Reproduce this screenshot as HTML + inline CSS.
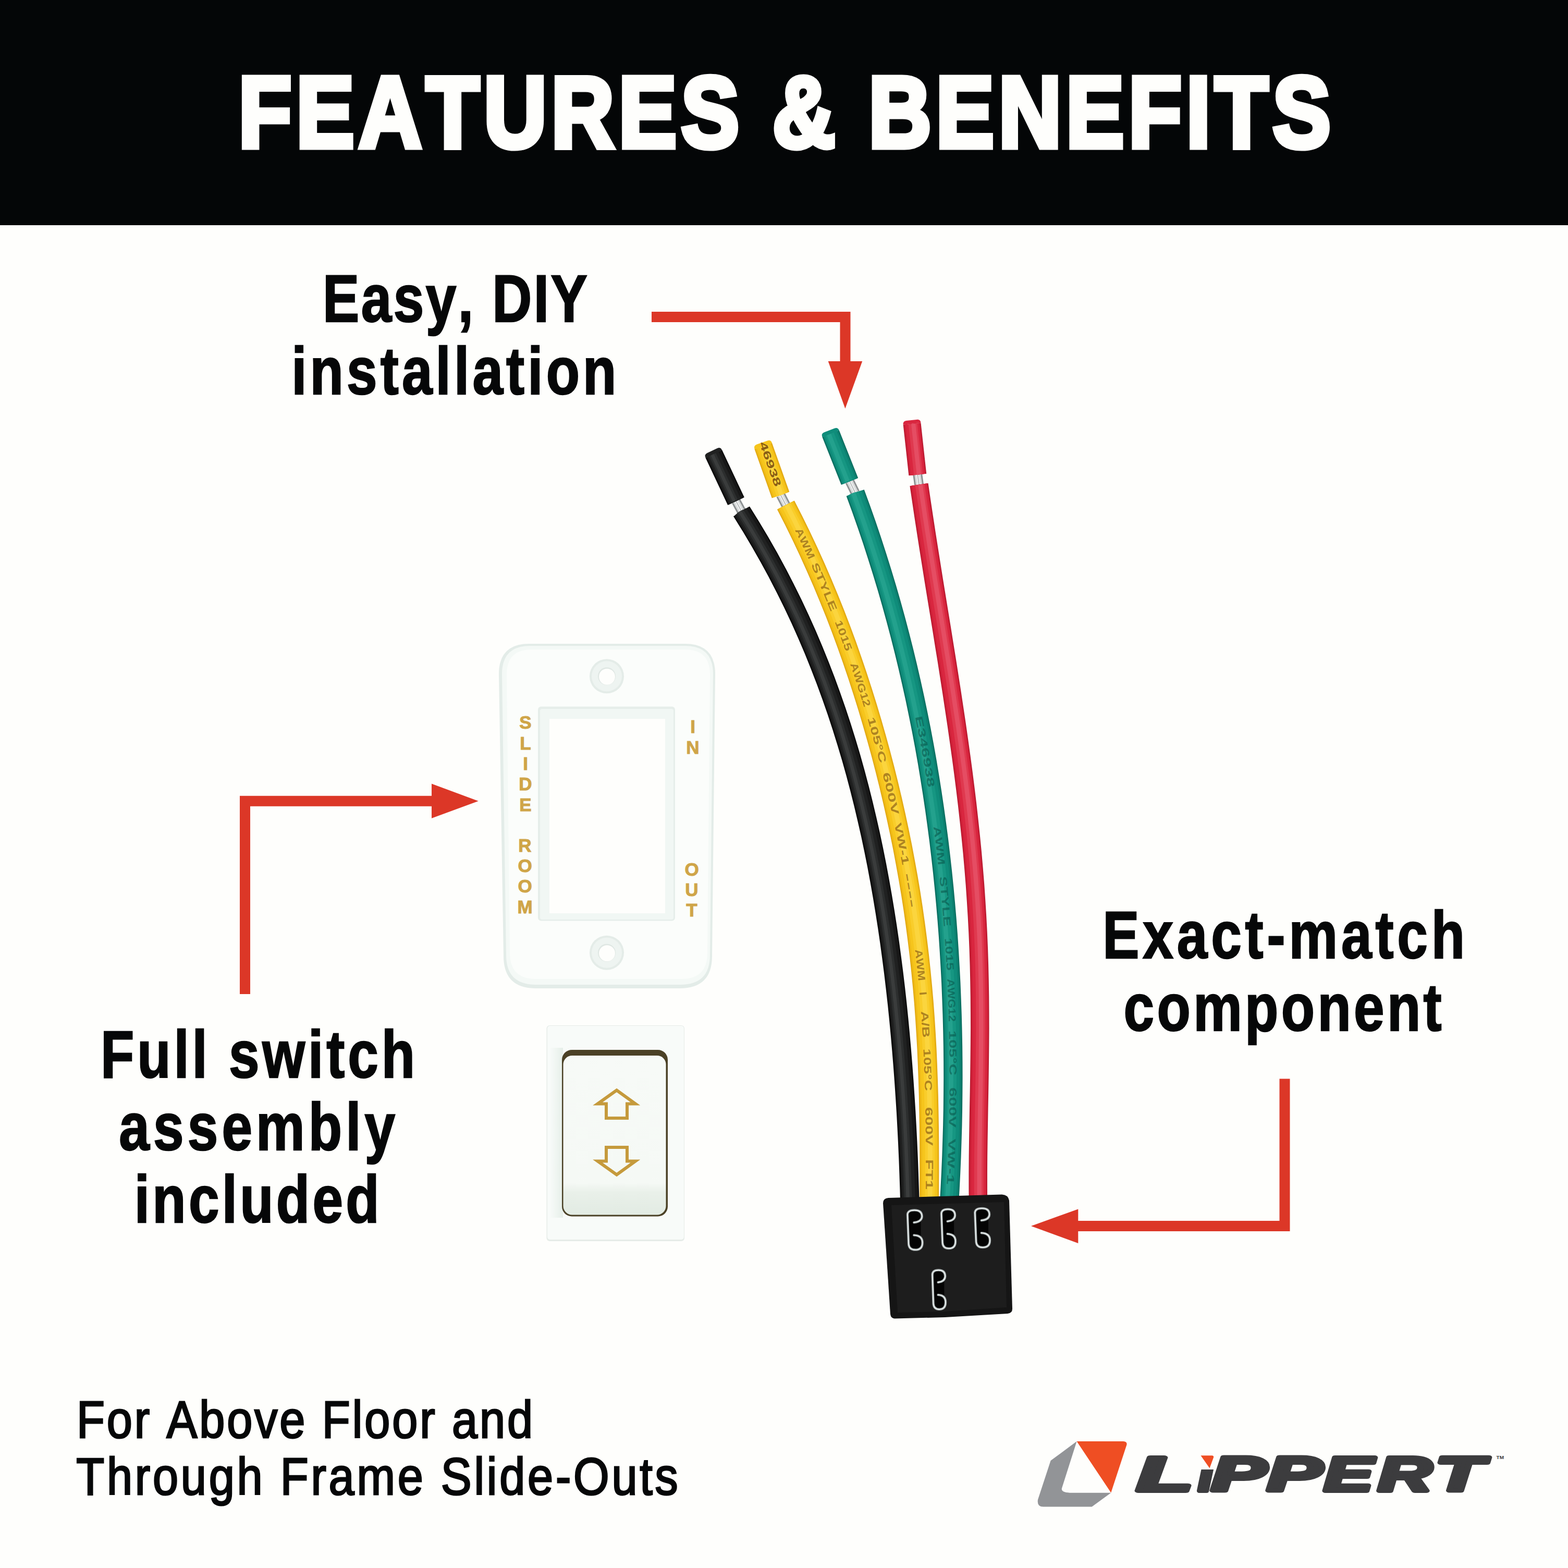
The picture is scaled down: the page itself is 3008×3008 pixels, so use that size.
<!DOCTYPE html>
<html lang="en">
<head>
<meta charset="utf-8">
<title>Features &amp; Benefits</title>
<style>
html,body{margin:0;padding:0;background:#fefefc;}
body{width:3008px;height:3008px;overflow:hidden;}
svg{display:block;font-family:"Liberation Sans",sans-serif;font-kerning:none;}
</style>
</head>
<body>
<svg width="3008" height="3008" viewBox="0 0 3008 3008">
<!-- header -->
<rect x="0" y="0" width="3008" height="432" fill="#040607"/>
<text transform="translate(457.48,282.10) scale(0.86,1)" font-size="193.90" font-weight="bold" font-style="normal" letter-spacing="10.272" fill="#fefefc" stroke="#fefefc" stroke-width="11">FEATURES &amp; BENEFITS</text>
<!-- callouts -->
<text transform="translate(618.99,616.55) scale(0.822,1)" font-size="128.05" font-weight="bold" font-style="normal" letter-spacing="4.242" fill="#060708" stroke="#060708" stroke-width="2.5">Easy, DIY</text>
<text transform="translate(559.18,755.85) scale(0.822,1)" font-size="128.05" font-weight="bold" font-style="normal" letter-spacing="7.490" fill="#060708" stroke="#060708" stroke-width="2.5">installation</text>
<text transform="translate(192.99,2066.75) scale(0.822,1)" font-size="128.05" font-weight="bold" font-style="normal" letter-spacing="7.206" fill="#060708" stroke="#060708" stroke-width="2.5">Full switch</text>
<text transform="translate(228.34,2206.05) scale(0.822,1)" font-size="128.05" font-weight="bold" font-style="normal" letter-spacing="8.699" fill="#060708" stroke="#060708" stroke-width="2.5">assembly</text>
<text transform="translate(257.78,2345.35) scale(0.822,1)" font-size="128.05" font-weight="bold" font-style="normal" letter-spacing="6.443" fill="#060708" stroke="#060708" stroke-width="2.5">included</text>
<text transform="translate(2115.19,1838.05) scale(0.822,1)" font-size="128.05" font-weight="bold" font-style="normal" letter-spacing="8.400" fill="#060708" stroke="#060708" stroke-width="2.5">Exact-match</text>
<text transform="translate(2155.62,1977.35) scale(0.822,1)" font-size="128.05" font-weight="bold" font-style="normal" letter-spacing="6.528" fill="#060708" stroke="#060708" stroke-width="2.5">component</text>
<text transform="translate(146.88,2757.50) scale(0.88,1)" font-size="100.29" font-weight="normal" font-style="normal" letter-spacing="4.467" fill="#060708" stroke="#060708" stroke-width="3">For Above Floor and</text>
<text transform="translate(146.34,2866.50) scale(0.88,1)" font-size="100.29" font-weight="normal" font-style="normal" letter-spacing="5.422" fill="#060708" stroke="#060708" stroke-width="3">Through Frame Slide-Outs</text>
<!-- arrows -->
<path d="M1250,608 H1621.5 V700" fill="none" stroke="#dc3727" stroke-width="20"/>
<path d="M1588.7,693 H1654.2 L1621.4,783.7 Z" fill="#dc3727"/>
<path d="M470,1907 V1536.7 H835" fill="none" stroke="#dc3727" stroke-width="20"/>
<path d="M828,1503.5 V1569.8 L917.7,1536.7 Z" fill="#dc3727"/>
<path d="M2464.5,2069.5 V2352 H2060" fill="none" stroke="#dc3727" stroke-width="20"/>
<path d="M2068.3,2319.5 V2385 L1978,2352 Z" fill="#dc3727"/>
<!-- wires -->
<g fill="none" stroke-linejoin="round"><path d="M1412.0,961.5 L1422.5,981.0" stroke="#8e9293" stroke-width="18"/>
<path d="M1412.0,961.5 L1422.5,981.0" stroke="#d9dcdc" stroke-width="12"/>
<path d="M1412.0,961.5 L1422.5,981.0" stroke="#f4f5f5" stroke-width="5"/>
<path d="M1412.0,961.5 L1422.5,981.0" stroke="#a9adae" stroke-width="1.5"/>
<path d="M1369.3,870.8 L1412.0,961.5" stroke="#0b0b0b" stroke-width="35.0"/>
<path d="M1369.3,870.8 L1412.0,961.5" stroke="#171717" stroke-width="30.8"/>
<path d="M1367.8,870.8 L1410.5,961.5" stroke="#202121" stroke-width="23.1"/>
<path d="M1366.3,870.8 L1409.0,961.5" stroke="#2c2e2e" stroke-width="14.0"/>
<path d="M1365.8,870.8 L1408.5,961.5" stroke="#3a3c3c" stroke-width="6.3"/>
<path d="M1385.1,863.4 Q1382.1,857.0 1375.8,860.0 L1356.8,869.0 Q1350.5,872.0 1353.5,878.3 Z" fill="#202121" stroke="none"/>
<path d="M1422.5,981.0 L1440.8,1010.5 L1458.4,1040.1 L1475.2,1069.6 L1491.2,1099.1 L1506.4,1128.7 L1521.0,1158.2 L1534.9,1187.7 L1548.1,1217.3 L1560.7,1246.8 L1572.6,1276.3 L1584.0,1305.9 L1594.8,1335.4 L1605.1,1364.9 L1614.8,1394.5 L1624.0,1424.0 L1632.8,1453.5 L1641.1,1483.1 L1648.9,1512.6 L1656.3,1542.1 L1663.3,1571.7 L1670.0,1601.2 L1676.2,1630.7 L1682.1,1660.3 L1687.6,1689.8 L1692.8,1719.3 L1697.7,1748.9 L1702.3,1778.4 L1706.6,1807.9 L1710.6,1837.5 L1714.4,1867.0 L1717.9,1896.5 L1721.2,1926.1 L1724.2,1955.6 L1727.0,1985.1 L1729.6,2014.7 L1732.0,2044.2 L1734.2,2073.7 L1736.2,2103.3 L1738.1,2132.8 L1739.7,2162.3 L1741.2,2191.9 L1742.5,2221.4 L1743.6,2250.9 L1744.6,2280.5 L1745.5,2310.0" stroke="#0b0b0b" stroke-width="36.5"/>
<path d="M1422.5,981.0 L1440.8,1010.5 L1458.4,1040.1 L1475.2,1069.6 L1491.2,1099.1 L1506.4,1128.7 L1521.0,1158.2 L1534.9,1187.7 L1548.1,1217.3 L1560.7,1246.8 L1572.6,1276.3 L1584.0,1305.9 L1594.8,1335.4 L1605.1,1364.9 L1614.8,1394.5 L1624.0,1424.0 L1632.8,1453.5 L1641.1,1483.1 L1648.9,1512.6 L1656.3,1542.1 L1663.3,1571.7 L1670.0,1601.2 L1676.2,1630.7 L1682.1,1660.3 L1687.6,1689.8 L1692.8,1719.3 L1697.7,1748.9 L1702.3,1778.4 L1706.6,1807.9 L1710.6,1837.5 L1714.4,1867.0 L1717.9,1896.5 L1721.2,1926.1 L1724.2,1955.6 L1727.0,1985.1 L1729.6,2014.7 L1732.0,2044.2 L1734.2,2073.7 L1736.2,2103.3 L1738.1,2132.8 L1739.7,2162.3 L1741.2,2191.9 L1742.5,2221.4 L1743.6,2250.9 L1744.6,2280.5 L1745.5,2310.0" stroke="#171717" stroke-width="32.1"/>
<path d="M1421.0,981.0 L1439.3,1010.5 L1456.9,1040.1 L1473.7,1069.6 L1489.7,1099.1 L1504.9,1128.7 L1519.5,1158.2 L1533.4,1187.7 L1546.6,1217.3 L1559.2,1246.8 L1571.1,1276.3 L1582.5,1305.9 L1593.3,1335.4 L1603.6,1364.9 L1613.3,1394.5 L1622.5,1424.0 L1631.3,1453.5 L1639.6,1483.1 L1647.4,1512.6 L1654.8,1542.1 L1661.8,1571.7 L1668.5,1601.2 L1674.7,1630.7 L1680.6,1660.3 L1686.1,1689.8 L1691.3,1719.3 L1696.2,1748.9 L1700.8,1778.4 L1705.1,1807.9 L1709.1,1837.5 L1712.9,1867.0 L1716.4,1896.5 L1719.7,1926.1 L1722.7,1955.6 L1725.5,1985.1 L1728.1,2014.7 L1730.5,2044.2 L1732.7,2073.7 L1734.7,2103.3 L1736.6,2132.8 L1738.2,2162.3 L1739.7,2191.9 L1741.0,2221.4 L1742.1,2250.9 L1743.1,2280.5 L1744.0,2310.0" stroke="#202121" stroke-width="24.1"/>
<path d="M1419.5,981.0 L1437.8,1010.5 L1455.4,1040.1 L1472.2,1069.6 L1488.2,1099.1 L1503.4,1128.7 L1518.0,1158.2 L1531.9,1187.7 L1545.1,1217.3 L1557.7,1246.8 L1569.6,1276.3 L1581.0,1305.9 L1591.8,1335.4 L1602.1,1364.9 L1611.8,1394.5 L1621.0,1424.0 L1629.8,1453.5 L1638.1,1483.1 L1645.9,1512.6 L1653.3,1542.1 L1660.3,1571.7 L1667.0,1601.2 L1673.2,1630.7 L1679.1,1660.3 L1684.6,1689.8 L1689.8,1719.3 L1694.7,1748.9 L1699.3,1778.4 L1703.6,1807.9 L1707.6,1837.5 L1711.4,1867.0 L1714.9,1896.5 L1718.2,1926.1 L1721.2,1955.6 L1724.0,1985.1 L1726.6,2014.7 L1729.0,2044.2 L1731.2,2073.7 L1733.2,2103.3 L1735.1,2132.8 L1736.7,2162.3 L1738.2,2191.9 L1739.5,2221.4 L1740.6,2250.9 L1741.6,2280.5 L1742.5,2310.0" stroke="#2c2e2e" stroke-width="14.6"/>
<path d="M1419.0,981.0 L1437.3,1010.5 L1454.9,1040.1 L1471.7,1069.6 L1487.7,1099.1 L1502.9,1128.7 L1517.5,1158.2 L1531.4,1187.7 L1544.6,1217.3 L1557.2,1246.8 L1569.1,1276.3 L1580.5,1305.9 L1591.3,1335.4 L1601.6,1364.9 L1611.3,1394.5 L1620.5,1424.0 L1629.3,1453.5 L1637.6,1483.1 L1645.4,1512.6 L1652.8,1542.1 L1659.8,1571.7 L1666.5,1601.2 L1672.7,1630.7 L1678.6,1660.3 L1684.1,1689.8 L1689.3,1719.3 L1694.2,1748.9 L1698.8,1778.4 L1703.1,1807.9 L1707.1,1837.5 L1710.9,1867.0 L1714.4,1896.5 L1717.7,1926.1 L1720.7,1955.6 L1723.5,1985.1 L1726.1,2014.7 L1728.5,2044.2 L1730.7,2073.7 L1732.7,2103.3 L1734.6,2132.8 L1736.2,2162.3 L1737.7,2191.9 L1739.0,2221.4 L1740.1,2250.9 L1741.1,2280.5 L1742.0,2310.0" stroke="#3a3c3c" stroke-width="6.6"/></g>
<g fill="none" stroke-linejoin="round"><path d="M1497.5,949.5 L1507.5,968.8" stroke="#8e9293" stroke-width="18"/>
<path d="M1497.5,949.5 L1507.5,968.8" stroke="#d9dcdc" stroke-width="12"/>
<path d="M1497.5,949.5 L1507.5,968.8" stroke="#f4f5f5" stroke-width="5"/>
<path d="M1497.5,949.5 L1507.5,968.8" stroke="#a9adae" stroke-width="1.5"/>
<path d="M1464.2,855.6 L1497.5,949.5" stroke="#e0a711" stroke-width="35.5"/>
<path d="M1464.2,855.6 L1497.5,949.5" stroke="#efba17" stroke-width="31.9"/>
<path d="M1464.7,855.6 L1498.0,949.5" stroke="#f6c51c" stroke-width="27.0"/>
<path d="M1465.2,855.6 L1498.5,949.5" stroke="#f9cd2b" stroke-width="17.8"/>
<path d="M1465.7,855.6 L1499.0,949.5" stroke="#fbd53e" stroke-width="8.5"/>
<path d="M1481.0,849.7 Q1478.6,843.1 1472.0,845.4 L1451.8,852.6 Q1445.2,854.9 1447.5,861.5 Z" fill="#f6c51c" stroke="none"/>
<path d="M1507.4,968.8 L1522.6,998.6 L1537.2,1028.4 L1551.2,1058.2 L1564.7,1088.0 L1577.7,1117.8 L1590.1,1147.6 L1602.1,1177.4 L1613.5,1207.2 L1624.5,1237.0 L1635.0,1266.8 L1645.1,1296.6 L1654.8,1326.5 L1664.1,1356.3 L1673.0,1386.1 L1681.5,1415.9 L1689.7,1445.7 L1697.5,1475.5 L1704.9,1505.3 L1712.0,1535.1 L1718.7,1564.9 L1725.1,1594.7 L1731.2,1624.5 L1736.8,1654.3 L1742.2,1684.1 L1747.2,1713.9 L1751.8,1743.7 L1756.0,1773.5 L1759.9,1803.3 L1763.5,1833.1 L1766.7,1862.9 L1769.6,1892.7 L1772.2,1922.5 L1774.4,1952.3 L1776.3,1982.2 L1778.0,2012.0 L1779.3,2041.8 L1780.4,2071.6 L1781.3,2101.4 L1781.9,2131.2 L1782.4,2161.0 L1782.7,2190.8 L1782.8,2220.6 L1782.8,2250.4 L1782.7,2280.2 L1782.6,2310.0" stroke="#e0a711" stroke-width="37.0"/>
<path d="M1507.4,968.8 L1522.6,998.6 L1537.2,1028.4 L1551.2,1058.2 L1564.7,1088.0 L1577.7,1117.8 L1590.1,1147.6 L1602.1,1177.4 L1613.5,1207.2 L1624.5,1237.0 L1635.0,1266.8 L1645.1,1296.6 L1654.8,1326.5 L1664.1,1356.3 L1673.0,1386.1 L1681.5,1415.9 L1689.7,1445.7 L1697.5,1475.5 L1704.9,1505.3 L1712.0,1535.1 L1718.7,1564.9 L1725.1,1594.7 L1731.2,1624.5 L1736.8,1654.3 L1742.2,1684.1 L1747.2,1713.9 L1751.8,1743.7 L1756.0,1773.5 L1759.9,1803.3 L1763.5,1833.1 L1766.7,1862.9 L1769.6,1892.7 L1772.2,1922.5 L1774.4,1952.3 L1776.3,1982.2 L1778.0,2012.0 L1779.3,2041.8 L1780.4,2071.6 L1781.3,2101.4 L1781.9,2131.2 L1782.4,2161.0 L1782.7,2190.8 L1782.8,2220.6 L1782.8,2250.4 L1782.7,2280.2 L1782.6,2310.0" stroke="#efba17" stroke-width="33.3"/>
<path d="M1507.9,968.8 L1523.1,998.6 L1537.7,1028.4 L1551.7,1058.2 L1565.2,1088.0 L1578.2,1117.8 L1590.6,1147.6 L1602.6,1177.4 L1614.0,1207.2 L1625.0,1237.0 L1635.5,1266.8 L1645.6,1296.6 L1655.3,1326.5 L1664.6,1356.3 L1673.5,1386.1 L1682.0,1415.9 L1690.2,1445.7 L1698.0,1475.5 L1705.4,1505.3 L1712.5,1535.1 L1719.2,1564.9 L1725.6,1594.7 L1731.7,1624.5 L1737.3,1654.3 L1742.7,1684.1 L1747.7,1713.9 L1752.3,1743.7 L1756.5,1773.5 L1760.4,1803.3 L1764.0,1833.1 L1767.2,1862.9 L1770.1,1892.7 L1772.7,1922.5 L1774.9,1952.3 L1776.8,1982.2 L1778.5,2012.0 L1779.8,2041.8 L1780.9,2071.6 L1781.8,2101.4 L1782.4,2131.2 L1782.9,2161.0 L1783.2,2190.8 L1783.3,2220.6 L1783.3,2250.4 L1783.2,2280.2 L1783.1,2310.0" stroke="#f6c51c" stroke-width="28.1"/>
<path d="M1508.4,968.8 L1523.6,998.6 L1538.2,1028.4 L1552.2,1058.2 L1565.7,1088.0 L1578.7,1117.8 L1591.1,1147.6 L1603.1,1177.4 L1614.5,1207.2 L1625.5,1237.0 L1636.0,1266.8 L1646.1,1296.6 L1655.8,1326.5 L1665.1,1356.3 L1674.0,1386.1 L1682.5,1415.9 L1690.7,1445.7 L1698.5,1475.5 L1705.9,1505.3 L1713.0,1535.1 L1719.7,1564.9 L1726.1,1594.7 L1732.2,1624.5 L1737.8,1654.3 L1743.2,1684.1 L1748.2,1713.9 L1752.8,1743.7 L1757.0,1773.5 L1760.9,1803.3 L1764.5,1833.1 L1767.7,1862.9 L1770.6,1892.7 L1773.2,1922.5 L1775.4,1952.3 L1777.3,1982.2 L1779.0,2012.0 L1780.3,2041.8 L1781.4,2071.6 L1782.3,2101.4 L1782.9,2131.2 L1783.4,2161.0 L1783.7,2190.8 L1783.8,2220.6 L1783.8,2250.4 L1783.7,2280.2 L1783.6,2310.0" stroke="#f9cd2b" stroke-width="18.5"/>
<path d="M1508.9,968.8 L1524.1,998.6 L1538.7,1028.4 L1552.7,1058.2 L1566.2,1088.0 L1579.2,1117.8 L1591.6,1147.6 L1603.6,1177.4 L1615.0,1207.2 L1626.0,1237.0 L1636.5,1266.8 L1646.6,1296.6 L1656.3,1326.5 L1665.6,1356.3 L1674.5,1386.1 L1683.0,1415.9 L1691.2,1445.7 L1699.0,1475.5 L1706.4,1505.3 L1713.5,1535.1 L1720.2,1564.9 L1726.6,1594.7 L1732.7,1624.5 L1738.3,1654.3 L1743.7,1684.1 L1748.7,1713.9 L1753.3,1743.7 L1757.5,1773.5 L1761.4,1803.3 L1765.0,1833.1 L1768.2,1862.9 L1771.1,1892.7 L1773.7,1922.5 L1775.9,1952.3 L1777.8,1982.2 L1779.5,2012.0 L1780.8,2041.8 L1781.9,2071.6 L1782.8,2101.4 L1783.4,2131.2 L1783.9,2161.0 L1784.2,2190.8 L1784.3,2220.6 L1784.3,2250.4 L1784.2,2280.2 L1784.1,2310.0" stroke="#fbd53e" stroke-width="8.9"/></g>
<g fill="none" stroke-linejoin="round"><path d="M1630.0,923.5 L1640.8,945.5" stroke="#8e9293" stroke-width="18"/>
<path d="M1630.0,923.5 L1640.8,945.5" stroke="#d9dcdc" stroke-width="12"/>
<path d="M1630.0,923.5 L1640.8,945.5" stroke="#f4f5f5" stroke-width="5"/>
<path d="M1630.0,923.5 L1640.8,945.5" stroke="#a9adae" stroke-width="1.5"/>
<path d="M1593.6,832.0 L1630.0,923.5" stroke="#0a6c5e" stroke-width="34.8"/>
<path d="M1593.6,832.0 L1630.0,923.5" stroke="#0c7f6f" stroke-width="31.3"/>
<path d="M1592.6,832.0 L1629.0,923.5" stroke="#0f8c7a" stroke-width="26.4"/>
<path d="M1591.1,832.0 L1627.5,923.5" stroke="#169682" stroke-width="17.4"/>
<path d="M1589.6,832.0 L1626.0,923.5" stroke="#23a18d" stroke-width="8.4"/>
<path d="M1609.8,825.6 Q1607.2,819.1 1600.7,821.7 L1581.3,829.3 Q1574.8,831.9 1577.4,838.4 Z" fill="#0f8c7a" stroke="none"/>
<path d="M1640.7,945.5 L1651.8,975.8 L1662.5,1006.1 L1672.8,1036.5 L1682.6,1066.8 L1692.1,1097.1 L1701.3,1127.4 L1710.0,1157.8 L1718.4,1188.1 L1726.4,1218.4 L1734.1,1248.7 L1741.4,1279.0 L1748.4,1309.4 L1755.1,1339.7 L1761.4,1370.0 L1767.5,1400.3 L1773.2,1430.7 L1778.6,1461.0 L1783.6,1491.3 L1788.4,1521.6 L1792.9,1551.9 L1797.1,1582.3 L1801.1,1612.6 L1804.7,1642.9 L1808.1,1673.2 L1811.2,1703.6 L1814.0,1733.9 L1816.6,1764.2 L1818.9,1794.5 L1820.9,1824.8 L1822.7,1855.2 L1824.3,1885.5 L1825.5,1915.8 L1826.6,1946.1 L1827.4,1976.5 L1828.0,2006.8 L1828.3,2037.1 L1828.4,2067.4 L1828.2,2097.7 L1827.9,2128.1 L1827.3,2158.4 L1826.4,2188.7 L1825.4,2219.0 L1824.1,2249.4 L1822.6,2279.7 L1820.8,2310.0" stroke="#0a6c5e" stroke-width="36.3"/>
<path d="M1640.7,945.5 L1651.8,975.8 L1662.5,1006.1 L1672.8,1036.5 L1682.6,1066.8 L1692.1,1097.1 L1701.3,1127.4 L1710.0,1157.8 L1718.4,1188.1 L1726.4,1218.4 L1734.1,1248.7 L1741.4,1279.0 L1748.4,1309.4 L1755.1,1339.7 L1761.4,1370.0 L1767.5,1400.3 L1773.2,1430.7 L1778.6,1461.0 L1783.6,1491.3 L1788.4,1521.6 L1792.9,1551.9 L1797.1,1582.3 L1801.1,1612.6 L1804.7,1642.9 L1808.1,1673.2 L1811.2,1703.6 L1814.0,1733.9 L1816.6,1764.2 L1818.9,1794.5 L1820.9,1824.8 L1822.7,1855.2 L1824.3,1885.5 L1825.5,1915.8 L1826.6,1946.1 L1827.4,1976.5 L1828.0,2006.8 L1828.3,2037.1 L1828.4,2067.4 L1828.2,2097.7 L1827.9,2128.1 L1827.3,2158.4 L1826.4,2188.7 L1825.4,2219.0 L1824.1,2249.4 L1822.6,2279.7 L1820.8,2310.0" stroke="#0c7f6f" stroke-width="32.7"/>
<path d="M1639.7,945.5 L1650.8,975.8 L1661.5,1006.1 L1671.8,1036.5 L1681.6,1066.8 L1691.1,1097.1 L1700.3,1127.4 L1709.0,1157.8 L1717.4,1188.1 L1725.4,1218.4 L1733.1,1248.7 L1740.4,1279.0 L1747.4,1309.4 L1754.1,1339.7 L1760.4,1370.0 L1766.5,1400.3 L1772.2,1430.7 L1777.6,1461.0 L1782.6,1491.3 L1787.4,1521.6 L1791.9,1551.9 L1796.1,1582.3 L1800.1,1612.6 L1803.7,1642.9 L1807.1,1673.2 L1810.2,1703.6 L1813.0,1733.9 L1815.6,1764.2 L1817.9,1794.5 L1819.9,1824.8 L1821.7,1855.2 L1823.3,1885.5 L1824.5,1915.8 L1825.6,1946.1 L1826.4,1976.5 L1827.0,2006.8 L1827.3,2037.1 L1827.4,2067.4 L1827.2,2097.7 L1826.9,2128.1 L1826.3,2158.4 L1825.4,2188.7 L1824.4,2219.0 L1823.1,2249.4 L1821.6,2279.7 L1819.8,2310.0" stroke="#0f8c7a" stroke-width="27.6"/>
<path d="M1638.2,945.5 L1649.3,975.8 L1660.0,1006.1 L1670.3,1036.5 L1680.1,1066.8 L1689.6,1097.1 L1698.8,1127.4 L1707.5,1157.8 L1715.9,1188.1 L1723.9,1218.4 L1731.6,1248.7 L1738.9,1279.0 L1745.9,1309.4 L1752.6,1339.7 L1758.9,1370.0 L1765.0,1400.3 L1770.7,1430.7 L1776.1,1461.0 L1781.1,1491.3 L1785.9,1521.6 L1790.4,1551.9 L1794.6,1582.3 L1798.6,1612.6 L1802.2,1642.9 L1805.6,1673.2 L1808.7,1703.6 L1811.5,1733.9 L1814.1,1764.2 L1816.4,1794.5 L1818.4,1824.8 L1820.2,1855.2 L1821.8,1885.5 L1823.0,1915.8 L1824.1,1946.1 L1824.9,1976.5 L1825.5,2006.8 L1825.8,2037.1 L1825.9,2067.4 L1825.7,2097.7 L1825.4,2128.1 L1824.8,2158.4 L1823.9,2188.7 L1822.9,2219.0 L1821.6,2249.4 L1820.1,2279.7 L1818.3,2310.0" stroke="#169682" stroke-width="18.1"/>
<path d="M1636.7,945.5 L1647.8,975.8 L1658.5,1006.1 L1668.8,1036.5 L1678.6,1066.8 L1688.1,1097.1 L1697.3,1127.4 L1706.0,1157.8 L1714.4,1188.1 L1722.4,1218.4 L1730.1,1248.7 L1737.4,1279.0 L1744.4,1309.4 L1751.1,1339.7 L1757.4,1370.0 L1763.5,1400.3 L1769.2,1430.7 L1774.6,1461.0 L1779.6,1491.3 L1784.4,1521.6 L1788.9,1551.9 L1793.1,1582.3 L1797.1,1612.6 L1800.7,1642.9 L1804.1,1673.2 L1807.2,1703.6 L1810.0,1733.9 L1812.6,1764.2 L1814.9,1794.5 L1816.9,1824.8 L1818.7,1855.2 L1820.3,1885.5 L1821.5,1915.8 L1822.6,1946.1 L1823.4,1976.5 L1824.0,2006.8 L1824.3,2037.1 L1824.4,2067.4 L1824.2,2097.7 L1823.9,2128.1 L1823.3,2158.4 L1822.4,2188.7 L1821.4,2219.0 L1820.1,2249.4 L1818.6,2279.7 L1816.8,2310.0" stroke="#23a18d" stroke-width="8.7"/></g>
<g fill="none" stroke-linejoin="round"><path d="M1760.3,910.5 L1763.0,929.6" stroke="#8e9293" stroke-width="18"/>
<path d="M1760.3,910.5 L1763.0,929.6" stroke="#d9dcdc" stroke-width="12"/>
<path d="M1760.3,910.5 L1763.0,929.6" stroke="#f4f5f5" stroke-width="5"/>
<path d="M1760.3,910.5 L1763.0,929.6" stroke="#a9adae" stroke-width="1.5"/>
<path d="M1749.6,813.0 L1760.3,910.5" stroke="#b8192f" stroke-width="34.0"/>
<path d="M1749.6,813.0 L1760.3,910.5" stroke="#ce2038" stroke-width="30.6"/>
<path d="M1750.1,813.0 L1760.8,910.5" stroke="#d9263f" stroke-width="25.8"/>
<path d="M1751.1,813.0 L1761.8,910.5" stroke="#df394f" stroke-width="17.0"/>
<path d="M1752.1,813.0 L1762.8,910.5" stroke="#e54d63" stroke-width="8.2"/>
<path d="M1766.5,811.1 Q1765.7,804.1 1758.7,804.9 L1738.9,807.1 Q1731.9,807.9 1732.7,814.8 Z" fill="#d9263f" stroke="none"/>
<path d="M1763.0,929.6 L1767.5,960.3 L1772.1,991.0 L1776.8,1021.6 L1781.6,1052.3 L1786.5,1083.0 L1791.4,1113.7 L1796.4,1144.3 L1801.4,1175.0 L1806.4,1205.7 L1811.3,1236.4 L1816.3,1267.0 L1821.1,1297.7 L1825.9,1328.4 L1830.5,1359.1 L1835.1,1389.7 L1839.5,1420.4 L1843.8,1451.1 L1847.9,1481.8 L1851.8,1512.4 L1855.5,1543.1 L1858.9,1573.8 L1862.2,1604.5 L1865.2,1635.1 L1867.9,1665.8 L1870.4,1696.5 L1872.5,1727.2 L1874.4,1757.8 L1876.0,1788.5 L1877.3,1819.2 L1878.3,1849.9 L1879.0,1880.5 L1879.5,1911.2 L1879.7,1941.9 L1879.8,1972.6 L1879.6,2003.2 L1879.3,2033.9 L1878.9,2064.6 L1878.4,2095.3 L1877.8,2125.9 L1877.3,2156.6 L1876.8,2187.3 L1876.4,2218.0 L1876.2,2248.6 L1876.2,2279.3 L1876.4,2310.0" stroke="#b8192f" stroke-width="35.5"/>
<path d="M1763.0,929.6 L1767.5,960.3 L1772.1,991.0 L1776.8,1021.6 L1781.6,1052.3 L1786.5,1083.0 L1791.4,1113.7 L1796.4,1144.3 L1801.4,1175.0 L1806.4,1205.7 L1811.3,1236.4 L1816.3,1267.0 L1821.1,1297.7 L1825.9,1328.4 L1830.5,1359.1 L1835.1,1389.7 L1839.5,1420.4 L1843.8,1451.1 L1847.9,1481.8 L1851.8,1512.4 L1855.5,1543.1 L1858.9,1573.8 L1862.2,1604.5 L1865.2,1635.1 L1867.9,1665.8 L1870.4,1696.5 L1872.5,1727.2 L1874.4,1757.8 L1876.0,1788.5 L1877.3,1819.2 L1878.3,1849.9 L1879.0,1880.5 L1879.5,1911.2 L1879.7,1941.9 L1879.8,1972.6 L1879.6,2003.2 L1879.3,2033.9 L1878.9,2064.6 L1878.4,2095.3 L1877.8,2125.9 L1877.3,2156.6 L1876.8,2187.3 L1876.4,2218.0 L1876.2,2248.6 L1876.2,2279.3 L1876.4,2310.0" stroke="#ce2038" stroke-width="31.9"/>
<path d="M1763.5,929.6 L1768.0,960.3 L1772.6,991.0 L1777.3,1021.6 L1782.1,1052.3 L1787.0,1083.0 L1791.9,1113.7 L1796.9,1144.3 L1801.9,1175.0 L1806.9,1205.7 L1811.8,1236.4 L1816.8,1267.0 L1821.6,1297.7 L1826.4,1328.4 L1831.0,1359.1 L1835.6,1389.7 L1840.0,1420.4 L1844.3,1451.1 L1848.4,1481.8 L1852.3,1512.4 L1856.0,1543.1 L1859.4,1573.8 L1862.7,1604.5 L1865.7,1635.1 L1868.4,1665.8 L1870.9,1696.5 L1873.0,1727.2 L1874.9,1757.8 L1876.5,1788.5 L1877.8,1819.2 L1878.8,1849.9 L1879.5,1880.5 L1880.0,1911.2 L1880.2,1941.9 L1880.3,1972.6 L1880.1,2003.2 L1879.8,2033.9 L1879.4,2064.6 L1878.9,2095.3 L1878.3,2125.9 L1877.8,2156.6 L1877.3,2187.3 L1876.9,2218.0 L1876.7,2248.6 L1876.7,2279.3 L1876.9,2310.0" stroke="#d9263f" stroke-width="27.0"/>
<path d="M1764.5,929.6 L1769.0,960.3 L1773.6,991.0 L1778.3,1021.6 L1783.1,1052.3 L1788.0,1083.0 L1792.9,1113.7 L1797.9,1144.3 L1802.9,1175.0 L1807.9,1205.7 L1812.8,1236.4 L1817.8,1267.0 L1822.6,1297.7 L1827.4,1328.4 L1832.0,1359.1 L1836.6,1389.7 L1841.0,1420.4 L1845.3,1451.1 L1849.4,1481.8 L1853.3,1512.4 L1857.0,1543.1 L1860.4,1573.8 L1863.7,1604.5 L1866.7,1635.1 L1869.4,1665.8 L1871.9,1696.5 L1874.0,1727.2 L1875.9,1757.8 L1877.5,1788.5 L1878.8,1819.2 L1879.8,1849.9 L1880.5,1880.5 L1881.0,1911.2 L1881.2,1941.9 L1881.3,1972.6 L1881.1,2003.2 L1880.8,2033.9 L1880.4,2064.6 L1879.9,2095.3 L1879.3,2125.9 L1878.8,2156.6 L1878.3,2187.3 L1877.9,2218.0 L1877.7,2248.6 L1877.7,2279.3 L1877.9,2310.0" stroke="#df394f" stroke-width="17.8"/>
<path d="M1765.5,929.6 L1770.0,960.3 L1774.6,991.0 L1779.3,1021.6 L1784.1,1052.3 L1789.0,1083.0 L1793.9,1113.7 L1798.9,1144.3 L1803.9,1175.0 L1808.9,1205.7 L1813.8,1236.4 L1818.8,1267.0 L1823.6,1297.7 L1828.4,1328.4 L1833.0,1359.1 L1837.6,1389.7 L1842.0,1420.4 L1846.3,1451.1 L1850.4,1481.8 L1854.3,1512.4 L1858.0,1543.1 L1861.4,1573.8 L1864.7,1604.5 L1867.7,1635.1 L1870.4,1665.8 L1872.9,1696.5 L1875.0,1727.2 L1876.9,1757.8 L1878.5,1788.5 L1879.8,1819.2 L1880.8,1849.9 L1881.5,1880.5 L1882.0,1911.2 L1882.2,1941.9 L1882.3,1972.6 L1882.1,2003.2 L1881.8,2033.9 L1881.4,2064.6 L1880.9,2095.3 L1880.3,2125.9 L1879.8,2156.6 L1879.3,2187.3 L1878.9,2218.0 L1878.7,2248.6 L1878.7,2279.3 L1878.9,2310.0" stroke="#e54d63" stroke-width="8.5"/></g>
<path id="wy" d="M1500.6,968.8 L1515.8,998.6 L1530.4,1028.4 L1544.4,1058.2 L1557.9,1088.0 L1570.9,1117.8 L1583.3,1147.6 L1595.3,1177.4 L1606.7,1207.2 L1617.7,1237.0 L1628.2,1266.8 L1638.3,1296.6 L1648.0,1326.5 L1657.3,1356.3 L1666.2,1386.1 L1674.7,1415.9 L1682.9,1445.7 L1690.7,1475.5 L1698.1,1505.3 L1705.2,1535.1 L1711.9,1564.9 L1718.3,1594.7 L1724.4,1624.5 L1730.0,1654.3 L1735.4,1684.1 L1740.4,1713.9 L1745.0,1743.7 L1749.2,1773.5 L1753.1,1803.3 L1756.7,1833.1 L1759.9,1862.9 L1762.8,1892.7 L1765.4,1922.5 L1767.6,1952.3 L1769.5,1982.2 L1771.2,2012.0 L1772.5,2041.8 L1773.6,2071.6 L1774.5,2101.4 L1775.1,2131.2 L1775.6,2161.0 L1775.9,2190.8 L1776.0,2220.6 L1776.0,2250.4 L1775.9,2280.2 L1775.8,2310.0" fill="none"/>
<text font-size="19.5" font-weight="bold" fill="#7a4e10" fill-opacity="0.62" textLength="63.0" lengthAdjust="spacingAndGlyphs"><textPath href="#wy" startOffset="53.9" textLength="63.0" lengthAdjust="spacingAndGlyphs">AWM</textPath></text>
<text font-size="19.5" font-weight="bold" fill="#7a4e10" fill-opacity="0.62" textLength="98.7" lengthAdjust="spacingAndGlyphs"><textPath href="#wy" startOffset="126.8" textLength="98.7" lengthAdjust="spacingAndGlyphs">STYLE</textPath></text>
<text font-size="19.5" font-weight="bold" fill="#7a4e10" fill-opacity="0.62" textLength="60.8" lengthAdjust="spacingAndGlyphs"><textPath href="#wy" startOffset="245.9" textLength="60.8" lengthAdjust="spacingAndGlyphs">1015</textPath></text>
<text font-size="19.5" font-weight="bold" fill="#7a4e10" fill-opacity="0.62" textLength="87.2" lengthAdjust="spacingAndGlyphs"><textPath href="#wy" startOffset="332.1" textLength="87.2" lengthAdjust="spacingAndGlyphs">AWG12</textPath></text>
<text font-size="19.5" font-weight="bold" fill="#7a4e10" fill-opacity="0.62" textLength="90.3" lengthAdjust="spacingAndGlyphs"><textPath href="#wy" startOffset="441.2" textLength="90.3" lengthAdjust="spacingAndGlyphs">105°C</textPath></text>
<text font-size="19.5" font-weight="bold" fill="#7a4e10" fill-opacity="0.62" textLength="82.7" lengthAdjust="spacingAndGlyphs"><textPath href="#wy" startOffset="550.6" textLength="82.7" lengthAdjust="spacingAndGlyphs">600V</textPath></text>
<text font-size="19.5" font-weight="bold" fill="#7a4e10" fill-opacity="0.62" textLength="81.6" lengthAdjust="spacingAndGlyphs"><textPath href="#wy" startOffset="649.7" textLength="81.6" lengthAdjust="spacingAndGlyphs">VW-1</textPath></text>
<text font-size="19.5" font-weight="bold" fill="#7a4e10" fill-opacity="0.62" textLength="66.9" lengthAdjust="spacingAndGlyphs"><textPath href="#wy" startOffset="747.5" textLength="66.9" lengthAdjust="spacingAndGlyphs">----</textPath></text>
<text font-size="19.5" font-weight="bold" fill="#7a4e10" fill-opacity="0.62" textLength="60.3" lengthAdjust="spacingAndGlyphs"><textPath href="#wy" startOffset="895.1" textLength="60.3" lengthAdjust="spacingAndGlyphs">AWM</textPath></text>
<text font-size="19.5" font-weight="bold" fill="#7a4e10" fill-opacity="0.62" textLength="7.0" lengthAdjust="spacingAndGlyphs"><textPath href="#wy" startOffset="976.5" textLength="7.0" lengthAdjust="spacingAndGlyphs">I</textPath></text>
<text font-size="19.5" font-weight="bold" fill="#7a4e10" fill-opacity="0.62" textLength="51.1" lengthAdjust="spacingAndGlyphs"><textPath href="#wy" startOffset="1013.7" textLength="51.1" lengthAdjust="spacingAndGlyphs">A/B</textPath></text>
<text font-size="19.5" font-weight="bold" fill="#7a4e10" fill-opacity="0.62" textLength="81.1" lengthAdjust="spacingAndGlyphs"><textPath href="#wy" startOffset="1085.8" textLength="81.1" lengthAdjust="spacingAndGlyphs">105°C</textPath></text>
<text font-size="19.5" font-weight="bold" fill="#7a4e10" fill-opacity="0.62" textLength="74.0" lengthAdjust="spacingAndGlyphs"><textPath href="#wy" startOffset="1197.9" textLength="74.0" lengthAdjust="spacingAndGlyphs">600V</textPath></text>
<text font-size="19.5" font-weight="bold" fill="#7a4e10" fill-opacity="0.62" textLength="58.0" lengthAdjust="spacingAndGlyphs"><textPath href="#wy" startOffset="1297.9" textLength="58.0" lengthAdjust="spacingAndGlyphs">FT1</textPath></text>
<path id="wg" d="M1633.9,945.5 L1645.0,975.8 L1655.7,1006.1 L1666.0,1036.5 L1675.8,1066.8 L1685.3,1097.1 L1694.5,1127.4 L1703.2,1157.8 L1711.6,1188.1 L1719.6,1218.4 L1727.3,1248.7 L1734.6,1279.0 L1741.6,1309.4 L1748.3,1339.7 L1754.6,1370.0 L1760.7,1400.3 L1766.4,1430.7 L1771.8,1461.0 L1776.8,1491.3 L1781.6,1521.6 L1786.1,1551.9 L1790.3,1582.3 L1794.3,1612.6 L1797.9,1642.9 L1801.3,1673.2 L1804.4,1703.6 L1807.2,1733.9 L1809.8,1764.2 L1812.1,1794.5 L1814.1,1824.8 L1815.9,1855.2 L1817.5,1885.5 L1818.7,1915.8 L1819.8,1946.1 L1820.6,1976.5 L1821.2,2006.8 L1821.5,2037.1 L1821.6,2067.4 L1821.4,2097.7 L1821.1,2128.1 L1820.5,2158.4 L1819.6,2188.7 L1818.6,2219.0 L1817.3,2249.4 L1815.8,2279.7 L1814.0,2310.0" fill="none"/>
<text font-size="19.5" font-weight="bold" fill="#054a40" fill-opacity="0.5" textLength="138.2" lengthAdjust="spacingAndGlyphs"><textPath href="#wg" startOffset="446.9" textLength="138.2" lengthAdjust="spacingAndGlyphs">E346938</textPath></text>
<text font-size="19.5" font-weight="bold" fill="#054a40" fill-opacity="0.5" textLength="74.5" lengthAdjust="spacingAndGlyphs"><textPath href="#wg" startOffset="660.8" textLength="74.5" lengthAdjust="spacingAndGlyphs">AWM</textPath></text>
<text font-size="19.5" font-weight="bold" fill="#054a40" fill-opacity="0.5" textLength="96.4" lengthAdjust="spacingAndGlyphs"><textPath href="#wg" startOffset="757.5" textLength="96.4" lengthAdjust="spacingAndGlyphs">STYLE</textPath></text>
<text font-size="19.5" font-weight="bold" fill="#054a40" fill-opacity="0.5" textLength="62.1" lengthAdjust="spacingAndGlyphs"><textPath href="#wg" startOffset="876.0" textLength="62.1" lengthAdjust="spacingAndGlyphs">1015</textPath></text>
<text font-size="19.5" font-weight="bold" fill="#054a40" fill-opacity="0.5" textLength="82.1" lengthAdjust="spacingAndGlyphs"><textPath href="#wg" startOffset="954.1" textLength="82.1" lengthAdjust="spacingAndGlyphs">AWG12</textPath></text>
<text font-size="19.5" font-weight="bold" fill="#054a40" fill-opacity="0.5" textLength="86.0" lengthAdjust="spacingAndGlyphs"><textPath href="#wg" startOffset="1053.2" textLength="86.0" lengthAdjust="spacingAndGlyphs">105°C</textPath></text>
<text font-size="19.5" font-weight="bold" fill="#054a40" fill-opacity="0.5" textLength="77.0" lengthAdjust="spacingAndGlyphs"><textPath href="#wg" startOffset="1162.2" textLength="77.0" lengthAdjust="spacingAndGlyphs">600V</textPath></text>
<text font-size="19.5" font-weight="bold" fill="#054a40" fill-opacity="0.5" textLength="88.1" lengthAdjust="spacingAndGlyphs"><textPath href="#wg" startOffset="1260.2" textLength="88.1" lengthAdjust="spacingAndGlyphs">VW-1</textPath></text>
<text transform="translate(1456.4,850.0) rotate(70.5)" font-size="19.5" font-weight="bold" fill="#7a4e10" fill-opacity="0.9" textLength="90" lengthAdjust="spacingAndGlyphs">46938</text>
<!-- connector -->
<path d="M1704,2298 L1922,2291.5 Q1934,2292 1936,2303 L1942,2511 Q1942,2519 1933,2520 L1813,2527 L1716,2529.5 Q1709,2529 1708,2521 L1694,2308 Q1694,2299 1704,2298 Z" fill="#151515"/>
<path d="M1710,2312 L1926,2306 L1931,2508 L1812,2516 L1722,2518 Z" fill="#1d1d1d"/>
<rect x="1743.7" y="2324.6" width="22.8" height="69.9" rx="4" fill="#040404"/><path d="M1753.3,2345.2 Q1768.1,2343.6 1768.7,2333.8 Q1768.7,2321.6 1754.2,2321.6 Q1739.7,2321.6 1741.0,2332.2 L1743.1,2387.0 Q1744.3,2397.6 1755.7,2397.6 Q1769.6,2397.6 1769.6,2383.9 Q1769.6,2370.2 1753.3,2369.5 Z" fill="#040404"/><path d="M1753.3,2345.2 Q1768.1,2343.6 1768.7,2333.8 Q1768.7,2321.6 1754.2,2321.6 Q1739.7,2321.6 1741.0,2332.2 L1743.1,2387.0 Q1744.3,2397.6 1755.7,2397.6 Q1769.6,2397.6 1769.6,2383.9 Q1769.6,2370.2 1753.3,2369.5" fill="none" stroke="#8f9696" stroke-width="4.5" stroke-linecap="round"/><path d="M1753.3,2345.2 Q1768.1,2343.6 1768.7,2333.8 Q1768.7,2321.6 1754.2,2321.6 Q1739.7,2321.6 1741.0,2332.2 L1743.1,2387.0 Q1744.3,2397.6 1755.7,2397.6 Q1769.6,2397.6 1769.6,2383.9 Q1769.6,2370.2 1753.3,2369.5" fill="none" stroke="#e6ecec" stroke-width="2.2" stroke-linecap="round"/>
<rect x="1808.6" y="2322.7" width="21.5" height="69.3" rx="4" fill="#040404"/><path d="M1817.6,2343.0 Q1831.5,2341.5 1832.1,2331.7 Q1832.1,2319.7 1818.5,2319.7 Q1804.9,2319.7 1806.0,2330.2 L1808.1,2384.5 Q1809.2,2395.0 1820.0,2395.0 Q1833.0,2395.0 1833.0,2381.4 Q1833.0,2367.9 1817.6,2367.1 Z" fill="#040404"/><path d="M1817.6,2343.0 Q1831.5,2341.5 1832.1,2331.7 Q1832.1,2319.7 1818.5,2319.7 Q1804.9,2319.7 1806.0,2330.2 L1808.1,2384.5 Q1809.2,2395.0 1820.0,2395.0 Q1833.0,2395.0 1833.0,2381.4 Q1833.0,2367.9 1817.6,2367.1" fill="none" stroke="#8f9696" stroke-width="4.5" stroke-linecap="round"/><path d="M1817.6,2343.0 Q1831.5,2341.5 1832.1,2331.7 Q1832.1,2319.7 1818.5,2319.7 Q1804.9,2319.7 1806.0,2330.2 L1808.1,2384.5 Q1809.2,2395.0 1820.0,2395.0 Q1833.0,2395.0 1833.0,2381.4 Q1833.0,2367.9 1817.6,2367.1" fill="none" stroke="#e6ecec" stroke-width="2.2" stroke-linecap="round"/>
<rect x="1873.2" y="2321.0" width="22.7" height="69.0" rx="4" fill="#040404"/><path d="M1882.7,2341.2 Q1897.5,2339.8 1898.1,2330.0 Q1898.1,2318.0 1883.7,2318.0 Q1869.2,2318.0 1870.4,2328.5 L1872.6,2382.5 Q1873.8,2393.0 1885.2,2393.0 Q1899.0,2393.0 1899.0,2379.5 Q1899.0,2366.0 1882.7,2365.2 Z" fill="#040404"/><path d="M1882.7,2341.2 Q1897.5,2339.8 1898.1,2330.0 Q1898.1,2318.0 1883.7,2318.0 Q1869.2,2318.0 1870.4,2328.5 L1872.6,2382.5 Q1873.8,2393.0 1885.2,2393.0 Q1899.0,2393.0 1899.0,2379.5 Q1899.0,2366.0 1882.7,2365.2" fill="none" stroke="#8f9696" stroke-width="4.5" stroke-linecap="round"/><path d="M1882.7,2341.2 Q1897.5,2339.8 1898.1,2330.0 Q1898.1,2318.0 1883.7,2318.0 Q1869.2,2318.0 1870.4,2328.5 L1872.6,2382.5 Q1873.8,2393.0 1885.2,2393.0 Q1899.0,2393.0 1899.0,2379.5 Q1899.0,2366.0 1882.7,2365.2" fill="none" stroke="#e6ecec" stroke-width="2.2" stroke-linecap="round"/>
<rect x="1791.2" y="2439.6" width="20.1" height="69.2" rx="4" fill="#040404"/><path d="M1799.6,2459.9 Q1812.6,2458.4 1813.2,2448.6 Q1813.2,2436.6 1800.4,2436.6 Q1787.6,2436.6 1788.7,2447.1 L1790.6,2501.3 Q1791.7,2511.8 1801.8,2511.8 Q1814.0,2511.8 1814.0,2498.3 Q1814.0,2484.7 1799.6,2484.0 Z" fill="#040404"/><path d="M1799.6,2459.9 Q1812.6,2458.4 1813.2,2448.6 Q1813.2,2436.6 1800.4,2436.6 Q1787.6,2436.6 1788.7,2447.1 L1790.6,2501.3 Q1791.7,2511.8 1801.8,2511.8 Q1814.0,2511.8 1814.0,2498.3 Q1814.0,2484.7 1799.6,2484.0" fill="none" stroke="#8f9696" stroke-width="4.5" stroke-linecap="round"/><path d="M1799.6,2459.9 Q1812.6,2458.4 1813.2,2448.6 Q1813.2,2436.6 1800.4,2436.6 Q1787.6,2436.6 1788.7,2447.1 L1790.6,2501.3 Q1791.7,2511.8 1801.8,2511.8 Q1814.0,2511.8 1814.0,2498.3 Q1814.0,2484.7 1799.6,2484.0" fill="none" stroke="#e6ecec" stroke-width="2.2" stroke-linecap="round"/>
<!-- switch plate -->
<path d="M1015,1235 H1314 Q1372,1235 1372,1293 L1366,1834 Q1366,1896 1304,1896 H1028 Q966,1896 966,1834 L957,1293 Q957,1235 1015,1235 Z" fill="#e3ece8"/>
<path d="M1017,1239 H1314 Q1368,1239 1368,1293 L1362,1832 Q1362,1889 1305,1889 H1028 Q971,1889 971,1832 L963,1293 Q963,1239 1017,1239 Z" fill="#f4f9f6"/>
<path d="M1020,1246 H1314 Q1362,1246 1362,1294 L1357,1828 Q1357,1878 1307,1878 H1028 Q978,1878 978,1828 L972,1294 Q972,1246 1020,1246 Z" fill="#fbfdfb"/>
<rect x="1032" y="1355.5" width="263" height="411" rx="6" fill="#e6eeea"/>
<rect x="1036" y="1360" width="256" height="404" rx="4" fill="#f1f7f4"/>
<rect x="1054" y="1379" width="222" height="373" fill="#fefefc"/>
<circle cx="1164" cy="1297.3" r="33" fill="#e4ece8"/>
<circle cx="1164" cy="1297.3" r="29" fill="#eef4f1"/>
<circle cx="1164" cy="1297.3" r="17" fill="#dfe7e3"/>
<circle cx="1164.5" cy="1298.3" r="15.5" fill="#fefefc"/>
<circle cx="1164" cy="1827.7" r="33" fill="#e4ece8"/>
<circle cx="1164" cy="1827.7" r="29" fill="#eef4f1"/>
<circle cx="1164" cy="1827.7" r="17" fill="#dfe7e3"/>
<circle cx="1164.5" cy="1828.7" r="15.5" fill="#fefefc"/>
<text x="1008" y="1398.3" font-size="35" font-weight="bold" fill="#cfa548" stroke="#cfa548" stroke-width="1" text-anchor="middle">S</text><text x="1008" y="1438.4" font-size="35" font-weight="bold" fill="#cfa548" stroke="#cfa548" stroke-width="1" text-anchor="middle">L</text><text x="1008" y="1477.0" font-size="35" font-weight="bold" fill="#cfa548" stroke="#cfa548" stroke-width="1" text-anchor="middle">I</text><text x="1008" y="1516.0" font-size="35" font-weight="bold" fill="#cfa548" stroke="#cfa548" stroke-width="1" text-anchor="middle">D</text><text x="1008" y="1556.0" font-size="35" font-weight="bold" fill="#cfa548" stroke="#cfa548" stroke-width="1" text-anchor="middle">E</text>
<text x="1007" y="1633.6" font-size="35" font-weight="bold" fill="#cfa548" stroke="#cfa548" stroke-width="1" text-anchor="middle">R</text><text x="1007" y="1672.9" font-size="35" font-weight="bold" fill="#cfa548" stroke="#cfa548" stroke-width="1" text-anchor="middle">O</text><text x="1007" y="1712.2" font-size="35" font-weight="bold" fill="#cfa548" stroke="#cfa548" stroke-width="1" text-anchor="middle">O</text><text x="1007" y="1751.5" font-size="35" font-weight="bold" fill="#cfa548" stroke="#cfa548" stroke-width="1" text-anchor="middle">M</text>
<text x="1329" y="1405.6" font-size="35" font-weight="bold" fill="#cfa548" stroke="#cfa548" stroke-width="1" text-anchor="middle">I</text><text x="1329" y="1445.7" font-size="35" font-weight="bold" fill="#cfa548" stroke="#cfa548" stroke-width="1" text-anchor="middle">N</text>
<text x="1327" y="1680.0" font-size="35" font-weight="bold" fill="#cfa548" stroke="#cfa548" stroke-width="1" text-anchor="middle">O</text><text x="1327" y="1719.0" font-size="35" font-weight="bold" fill="#cfa548" stroke="#cfa548" stroke-width="1" text-anchor="middle">U</text><text x="1327" y="1758.0" font-size="35" font-weight="bold" fill="#cfa548" stroke="#cfa548" stroke-width="1" text-anchor="middle">T</text>
<!-- rocker switch -->
<defs><linearGradient id="rk1" x1="0" y1="0" x2="1" y2="0"><stop offset="0" stop-color="#f7faf8"/><stop offset="1" stop-color="#e6efe9"/></linearGradient><linearGradient id="rk2" x1="0" y1="0" x2="0" y2="1"><stop offset="0" stop-color="#f7faf7"/><stop offset="0.80" stop-color="#f5f9f5"/><stop offset="0.86" stop-color="#e9f0e9"/><stop offset="1" stop-color="#e2ebe3"/></linearGradient></defs>
<rect x="1048.5" y="1967" width="264.5" height="414" rx="6" fill="#e6ece8"/>
<rect x="1050" y="1968" width="262" height="410" rx="5" fill="#f8fbf9"/>
<rect x="1056" y="2010" width="24" height="326" fill="url(#rk1)"/>
<rect x="1078" y="2014" width="203" height="319.5" rx="19" fill="#4b4126"/>
<rect x="1080.5" y="2025" width="197" height="305.5" rx="17" fill="url(#rk2)"/>
<path d="M1183,2091.5 L1219,2117.5 H1203 V2145 H1163 V2117.5 H1146.5 Z" fill="none" stroke="#c59a3c" stroke-width="6"/>
<path d="M1183,2253.5 L1219,2227.5 H1203 V2201 H1163 V2227.5 H1146.5 Z" fill="none" stroke="#c59a3c" stroke-width="6"/>
<!-- logo -->
<path d="M2065.6,2765.1 L2015.6,2802 L1991,2877 Q1989,2890.6 2001.4,2890.6 L2094.6,2890.6 L2131.3,2863.7 L2052,2863.7 Q2035,2863 2037,2855 Z" fill="#929497"/>
<path d="M2065.6,2765.1 L2155,2765.1 Q2163,2766 2161.3,2772 L2131.3,2863.5 Z" fill="#ef4e23"/>
<text y="2859.60" font-size="92.44" font-weight="bold" font-style="italic" fill="#3c3c3e" stroke="#3c3c3e" stroke-width="8" stroke-linejoin="round"><tspan x="2181.0" textLength="107.29" lengthAdjust="spacingAndGlyphs">L</tspan><tspan x="2298.5" textLength="28.25" lengthAdjust="spacingAndGlyphs">I</tspan><tspan x="2324.3" textLength="104.82" lengthAdjust="spacingAndGlyphs">P</tspan><tspan x="2431.3" textLength="104.82" lengthAdjust="spacingAndGlyphs">P</tspan><tspan x="2540.0" textLength="93.72" lengthAdjust="spacingAndGlyphs">E</tspan><tspan x="2643.7" textLength="102.81" lengthAdjust="spacingAndGlyphs">R</tspan><tspan x="2753.3" textLength="92.04" lengthAdjust="spacingAndGlyphs">T</tspan></text>
<path d="M2296,2784 L2342,2784 L2333,2819 L2290,2819 Z" fill="#fefefc"/>
<path d="M2303.5,2792.3 L2325.5,2792.3 Q2329,2792.8 2328,2796 L2320.5,2816.5 Z" fill="#ef4e23"/>
<text x="2870.5" y="2798.6" font-size="8.5" font-weight="bold" fill="#3c3c3e" textLength="14.5" lengthAdjust="spacingAndGlyphs">TM</text>
</svg>
</body>
</html>
